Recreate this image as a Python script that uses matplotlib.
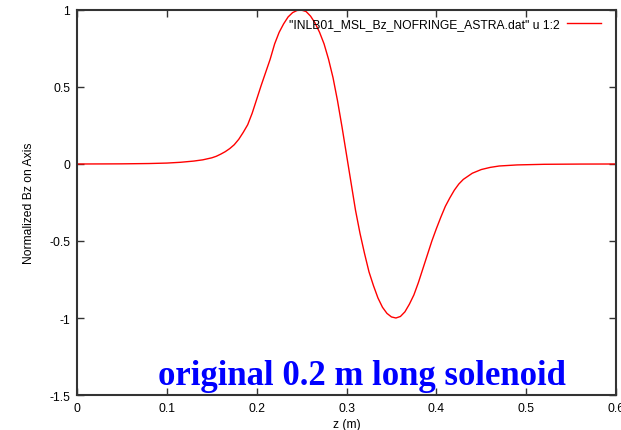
import numpy as np
import matplotlib
matplotlib.use("Agg")
from matplotlib import pyplot as plt

# values
z = [0.0, 0.03, 0.05, 0.08, 0.10, 0.115, 0.13, 0.14, 0.15, 0.155, 0.16,
     0.165, 0.17, 0.175, 0.18, 0.185, 0.19, 0.195, 0.20, 0.205, 0.21, 0.215,
     0.22, 0.225, 0.23, 0.235, 0.24, 0.245, 0.25, 0.255, 0.26, 0.265, 0.27,
     0.275, 0.28, 0.285, 0.29, 0.295, 0.30, 0.305, 0.31, 0.315, 0.32, 0.325,
     0.33, 0.335, 0.34, 0.345, 0.35, 0.355, 0.36, 0.365, 0.37, 0.375, 0.38,
     0.385, 0.39, 0.395, 0.40, 0.405, 0.41, 0.415, 0.42, 0.425, 0.43, 0.44,
     0.45, 0.46, 0.47, 0.49, 0.52, 0.56, 0.6]
bz = [0.0, 0.0005, 0.001, 0.003, 0.006, 0.011, 0.019, 0.027, 0.04, 0.05,
      0.064, 0.08, 0.10, 0.125, 0.16, 0.205, 0.255, 0.33, 0.42, 0.51, 0.595,
      0.68, 0.78, 0.855, 0.91, 0.955, 0.983, 0.997, 0.999, 0.99, 0.96, 0.915,
      0.855, 0.78, 0.68, 0.56, 0.41, 0.24, 0.06, -0.12, -0.30, -0.45, -0.58,
      -0.70, -0.79, -0.87, -0.93, -0.97, -0.993, -1.0, -0.99, -0.96, -0.91,
      -0.85, -0.77, -0.68, -0.59, -0.50, -0.42, -0.345, -0.275, -0.22, -0.17,
      -0.13, -0.10, -0.06, -0.036, -0.022, -0.013, -0.006, -0.002, -0.0005,
      0.0]

xticks = [0, 0.1, 0.2, 0.3, 0.4, 0.5, 0.6]
xticklabels = ["0", "0.1", "0.2", "0.3", "0.4", "0.5", "0.6"]
yticks = [-1.5, -1, -0.5, 0, 0.5, 1]
yticklabels = ["-1.5", "-1", "-0.5", "0", "0.5", "1"]

plt.rcParams['font.family'] = ['Liberation Sans', 'DejaVu Sans']
fs = 8.7

fig = plt.figure(figsize=(6.21, 4.31), dpi=100)
ax = fig.add_axes([0.124, 0.0812, 0.868, 0.8933])

ax.plot(z, bz, color='red', lw=1.0,
        label='"INLB01_MSL_Bz_NOFRINGE_ASTRA.dat" u 1:2')

ax.set_xlim(0, 0.6)
ax.set_ylim(-1.5, 1)
ax.set_xticks(xticks)
ax.set_xticklabels(xticklabels)
ax.set_yticks(yticks)
ax.set_yticklabels(yticklabels)
ax.tick_params(direction='in', length=5, width=1, top=True, right=True,
               labelsize=fs, pad=5, color='#333333')
for s in ax.spines.values():
    s.set_linewidth(1.5)
    s.set_color('#333333')

ax.set_xlabel('z (m)', fontsize=fs, labelpad=3)
ax.set_ylabel('Normalized Bz on Axis', fontsize=fs, labelpad=10)

leg = ax.legend(loc='upper right', bbox_to_anchor=(0.987, 1.0),
                frameon=False, fontsize=fs, markerfirst=False,
                handlelength=2.8, handletextpad=0.6,
                borderaxespad=0.5, borderpad=0.2)

ax.text(0.317, -1.43, 'original 0.2 m long solenoid', color='blue',
        fontsize=25, fontweight='bold', family='Liberation Serif',
        ha='center', va='baseline')

plt.savefig('out.png', dpi=100)
